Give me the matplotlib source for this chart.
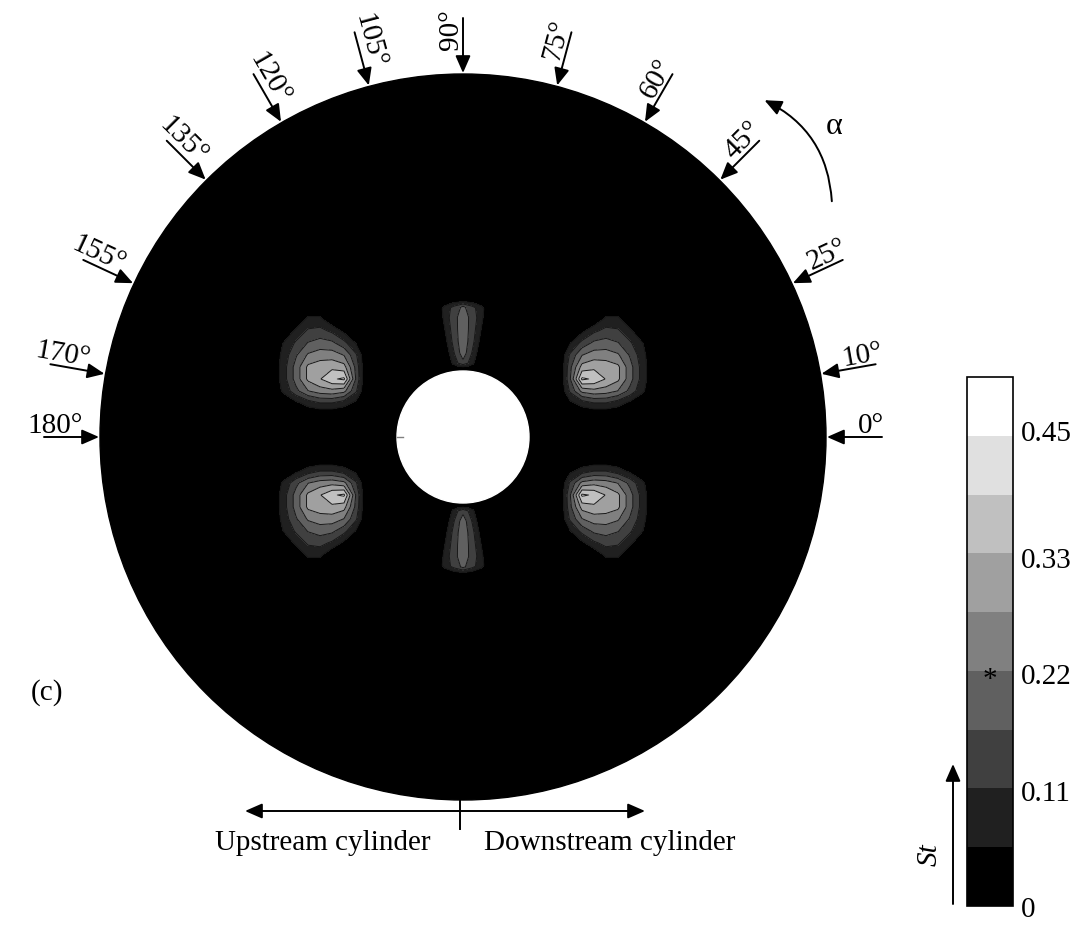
import numpy as np
import matplotlib
matplotlib.use('Agg')
import matplotlib.pyplot as plt
from matplotlib.colors import ListedColormap
from matplotlib.patches import Circle, FancyArrowPatch

plt.rcParams['font.family'] = ['Liberation Serif', 'DejaVu Serif']

# St contour levels and the grey shade of each band (dark -> light)
st_levels = np.linspace(0, 0.5, 10)
greys = ['#000000', '#202020', '#404040', '#606060', '#808080',
         '#a0a0a0', '#c0c0c0', '#e0e0e0', '#ffffff']
cbar_ticks = [0, 0.11, 0.22, 0.33, 0.45]
cbar_labels = ['0', '0.11', '0.22', '0.33', '0.45']

# angles marked round the rim (deg)
alpha_marks = [0, 10, 25, 45, 60, 75, 90, 105, 120, 135, 155, 170, 180]

# side hot spot (upper left copy), St on a pixel grid x (cols) by y (rows)
side_x = [272, 284, 296, 308, 320, 332, 344, 356, 366]
side_y = [308, 320, 332, 344, 356, 368, 380, 392, 404, 416]
side_st = [
    [0, 0.00, 0.00, 0.00, 0.00, 0.00, 0.00, 0.00, 0],
    [0, 0.00, 0.00, 0.07, 0.07, 0.00, 0.00, 0.00, 0],
    [0, 0.00, 0.07, 0.12, 0.13, 0.10, 0.04, 0.00, 0],
    [0, 0.06, 0.12, 0.17, 0.19, 0.18, 0.13, 0.05, 0],
    [0, 0.08, 0.16, 0.23, 0.25, 0.25, 0.22, 0.12, 0],
    [0, 0.09, 0.19, 0.29, 0.31, 0.32, 0.30, 0.15, 0],
    [0, 0.09, 0.19, 0.29, 0.33, 0.38, 0.40, 0.16, 0],
    [0, 0.07, 0.15, 0.22, 0.25, 0.26, 0.24, 0.12, 0],
    [0, 0.00, 0.04, 0.08, 0.11, 0.11, 0.08, 0.04, 0],
    [0, 0.00, 0.00, 0.00, 0.00, 0.00, 0.00, 0.00, 0],
]

# top hot spot, St on radius (px) x angle (deg)
top_r = [68, 74, 84, 96, 108, 120, 130, 138]
top_theta = [78, 82, 86, 90, 94, 98, 102]
top_st = [
    [0, 0.00, 0.00, 0.00, 0.00, 0.00, 0],
    [0, 0.06, 0.11, 0.15, 0.11, 0.06, 0],
    [0, 0.08, 0.14, 0.20, 0.14, 0.08, 0],
    [0, 0.09, 0.15, 0.21, 0.15, 0.09, 0],
    [0, 0.09, 0.15, 0.21, 0.15, 0.09, 0],
    [0, 0.09, 0.15, 0.20, 0.15, 0.09, 0],
    [0, 0.08, 0.13, 0.18, 0.13, 0.08, 0],
    [0, 0.00, 0.00, 0.00, 0.00, 0.00, 0],
]

# disc geometry in pixels
cx, cy, R, R_hole = 463, 438, 363, 66
fs = 21
head = '-|>,head_length=0.8,head_width=0.35'

fig = plt.figure(figsize=(10.79, 9.28), dpi=100)
ax = fig.add_axes([0, 0, 1, 1])
ax.set_xlim(0, 1079)
ax.set_ylim(928, 0)
ax.axis('off')

cmap = ListedColormap(greys)

ax.add_patch(Circle((cx, cy), R, color='k', zorder=1))
ax.add_patch(Circle((cx, cy), R_hole, color='w', zorder=5))
ax.plot([397, 403], [cy, cy], color='0.5', lw=1, zorder=6)


def draw_field(X, Y, Z):
    cs = ax.contourf(X, Y, Z, levels=st_levels, cmap=cmap, zorder=2)
    ax.contour(X, Y, Z, levels=st_levels[1:-1], colors='#181818',
               linewidths=0.7, zorder=3)
    return cs


# four side spots: mirror the upper-left one about the disc axes
Xs, Ys = np.meshgrid(side_x, side_y)
for mx in [False, True]:
    for my in [False, True]:
        X = 2 * cx - Xs if mx else Xs
        Y = 2 * cy - Ys if my else Ys
        cs = draw_field(X, Y, np.array(side_st))

# top and bottom spots
T, Rg = np.meshgrid(np.radians(top_theta), top_r)
for sy in [1, -1]:
    draw_field(cx + Rg * np.cos(T), cy - sy * Rg * np.sin(T), np.array(top_st))

# rim arrows and angle labels
for a in alpha_marks:
    t = np.radians(a)
    ux, uy = np.cos(t), -np.sin(t)
    ax.annotate('', xy=(cx + (R + 1) * ux, cy + (R + 1) * uy),
                xytext=(cx + (R + 56) * ux, cy + (R + 56) * uy),
                arrowprops=dict(arrowstyle=head, lw=1.4, color='k',
                                shrinkA=0, shrinkB=0, mutation_scale=13))
    rot = a if a <= 90 else a - 180
    rr = np.radians(rot)
    upx, upy = -np.sin(rr), -np.cos(rr)
    ax.text(cx + (R + 45) * ux + 12 * upx, cy + (R + 45) * uy + 12 * upy,
            f'{a}°', rotation=rot, rotation_mode='anchor',
            ha='center', va='center', fontsize=fs)

# alpha direction arrow
ax.add_patch(FancyArrowPatch((832, 205), (762, 100),
                             connectionstyle='arc3,rad=0.3',
                             arrowstyle=head, mutation_scale=13,
                             lw=1.4, color='k'))
ax.text(834, 127, 'α', ha='center', va='center', fontsize=fs + 2)

ax.text(47, 693, '(c)', ha='center', va='center', fontsize=fs)

# upstream / downstream marker
ax.annotate('', xy=(245, 812), xytext=(645, 812),
            arrowprops=dict(arrowstyle='<|-|>,head_length=0.8,head_width=0.35',
                            lw=1.4, color='k', shrinkA=0, shrinkB=0,
                            mutation_scale=13))
ax.plot([460, 460], [800, 830], color='k', lw=1.4)
ax.text(323, 843, 'Upstream cylinder', ha='center', va='center', fontsize=fs)
ax.text(610, 843, 'Downstream cylinder', ha='center', va='center', fontsize=fs)

# colour bar
cax = fig.add_axes([967 / 1079, (928 - 907) / 928, 46 / 1079, 529 / 928])
cb = fig.colorbar(cs, cax=cax, ticks=cbar_ticks)
cb.ax.set_yticklabels(cbar_labels)
cb.ax.tick_params(length=0, labelsize=fs, pad=6)
cb.outline.set_linewidth(1.2)
cb.ax.text(0.5, 0.43, '*', transform=cb.ax.transAxes, ha='center',
           va='center', fontsize=fs)

ax.annotate('', xy=(953, 765), xytext=(953, 905),
            arrowprops=dict(arrowstyle=head, lw=1.4, color='k',
                            shrinkA=0, shrinkB=0, mutation_scale=13))
ax.text(930, 855, 'St', rotation=90, style='italic', ha='center',
        va='center', fontsize=fs)

fig.savefig('out.png', dpi=100)
